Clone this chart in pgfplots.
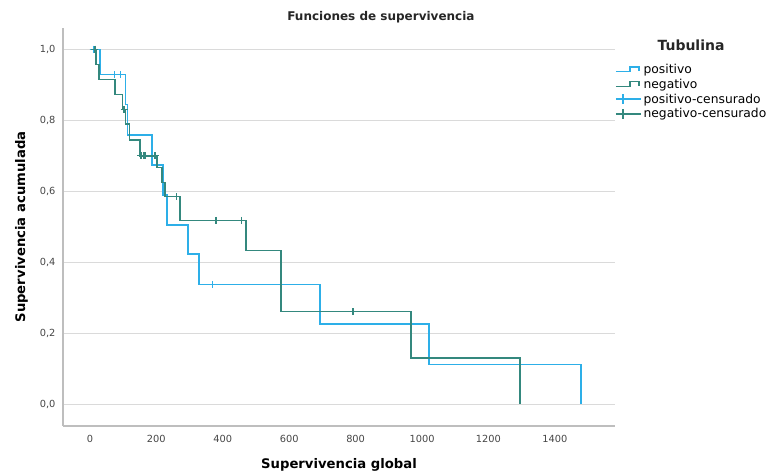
\documentclass[border=0pt]{standalone}
\usepackage{fontspec}
\setmainfont{DejaVu Sans}
\usepackage{pgfplots}
\pgfplotsset{compat=1.18}
\definecolor{posC}{RGB}{45,175,232}
\definecolor{negC}{RGB}{52,136,126}
\definecolor{gridC}{RGB}{218,218,218}
\definecolor{axC}{RGB}{190,190,190}
\definecolor{tickC}{RGB}{70,70,70}
\begin{document}
\begin{tikzpicture}[x=1pt,y=1pt]
\path[use as bounding box] (-63,-47) rectangle (706,426);
\begin{axis}[
  at={(0,0)}, anchor=south west,
  scale only axis, width=552pt, height=398pt,
  xmin=-81, xmax=1581, ymin=-0.061, ymax=1.06,
  clip=false,
  axis x line*=bottom, axis y line*=left,
  axis line style={axC, line width=2pt, -},
  xtick={0,200,400,600,800,1000,1200,1400},
  ytick={0,0.2,0.4,0.6,0.8,1},
  major tick length=0pt,
  ymajorgrids, grid style={gridC, line width=1.5pt},
  yticklabel style={/pgf/number format/fixed, /pgf/number format/fixed zerofill, /pgf/number format/precision=1, /pgf/number format/use comma, xshift=-4pt},
  xticklabel style={/pgf/number format/fixed, /pgf/number format/1000 sep={}, yshift=-6pt},
  /pgf/number format/assume math mode=true,
  tick label style={font=\fontsize{9.8}{11}\selectfont, text=tickC},
  title={Funciones de supervivencia},
  title style={font=\bfseries\fontsize{12}{14}\selectfont, at={(axis description cs:0.576,1.012)}, anchor=center, text=black!85},
  xlabel={Supervivencia global},
  ylabel={Supervivencia acumulada},
  xlabel style={font=\bfseries\fontsize{13.2}{15}\selectfont, at={(axis description cs:0.5,-0.097)}, anchor=center},
  ylabel style={font=\bfseries\fontsize{13.2}{15}\selectfont, at={(axis description cs:-0.075,0.5)}, anchor=center},
  legend style={at={(axis description cs:1.0,0.915)}, anchor=north west, draw=none, fill=none, inner sep=0pt,
    font=\fontsize{12.3}{14}\selectfont, row sep=0pt},
  legend cell align=left,
]
\addplot[const plot, posC, line width=1.4pt,
  legend image code/.code={\draw[posC, line width=1.4pt] (0pt,-2pt)--(14pt,-2pt)--(14pt,2.5pt)--(23pt,2.5pt)--(23pt,-1.5pt);}]
  coordinates {(0,1) (30,0.929) (108,0.845) (114,0.759) (187,0.674) (220,0.59) (232,0.505) (295,0.423) (328,0.337) (693,0.226) (1021,0.113) (1479,0)};
\addlegendentry{positivo}
\addplot[const plot, negC, line width=1.4pt,
  legend image code/.code={\draw[negC, line width=1.4pt] (0pt,-2pt)--(14pt,-2pt)--(14pt,2.5pt)--(23pt,2.5pt)--(23pt,-1.5pt);}]
  coordinates {(0,1) (18,0.958) (27,0.915) (75,0.873) (99,0.83) (108,0.79) (120,0.745) (151,0.70) (202,0.667) (217,0.625) (226,0.585) (271,0.518) (470,0.434) (575,0.261) (967,0.13) (1295,0)};
\addlegendentry{negativo}
\addplot[only marks, mark=+, mark size=3.6pt, posC, mark options={line width=1.3pt},
  legend image code/.code={\draw[posC, line width=1.4pt] (0pt,0pt)--(25pt,0pt) (7pt,-5pt)--(7pt,5pt);}]
  coordinates {(10,1) (75,0.929) (92,0.929) (370,0.337)};
\addlegendentry{positivo-censurado}
\addplot[only marks, mark=+, mark size=3.6pt, negC, mark options={line width=1.3pt},
  legend image code/.code={\draw[negC, line width=1.4pt] (0pt,0pt)--(25pt,0pt) (7pt,-5pt)--(7pt,5pt);}]
  coordinates {(15,1) (103,0.83) (154,0.70) (161,0.70) (166,0.70) (196,0.70) (261,0.585) (380,0.518) (456,0.518) (792,0.261)};
\addlegendentry{negativo-censurado}
\end{axis}
\node[font=\bfseries\fontsize{14}{16}\selectfont, text=black!85] at (628,381) {Tubulina};
\end{tikzpicture}
\end{document}
